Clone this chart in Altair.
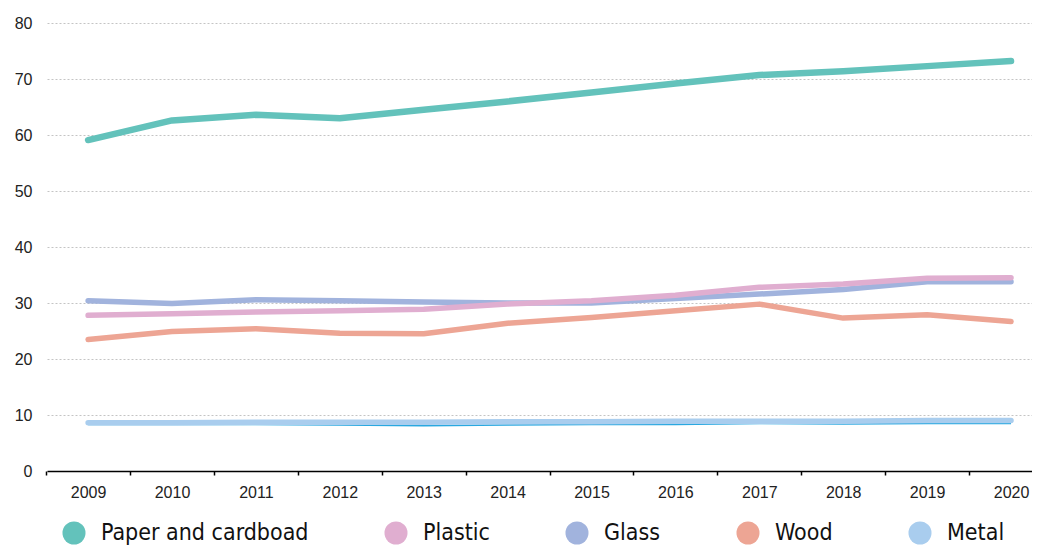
import altair as alt
import pandas as pd

years = list(range(2009, 2021))
paper = [59.1, 62.6, 63.6, 63.0, 64.5, 66.0, 67.6, 69.2, 70.7, 71.4, 72.3, 73.2]
plastic = [27.8, 28.1, 28.4, 28.6, 28.9, 29.8, 30.4, 31.4, 32.8, 33.4, 34.4, 34.5]
glass = [30.4, 29.9, 30.6, 30.4, 30.2, 30.0, 30.0, 30.8, 31.6, 32.4, 33.8, 33.8]
wood = [23.5, 24.9, 25.4, 24.6, 24.5, 26.4, 27.4, 28.6, 29.8, 27.3, 27.9, 26.7]
metal = [8.6, 8.6, 8.7, 8.7, 8.7, 8.8, 8.8, 8.9, 8.9, 8.9, 9.0, 9.0]
metal_inner = [8.3, 8.3, 8.3, 8.2, 8.1, 8.2, 8.3, 8.3, 8.5, 8.4, 8.5, 8.5]

names = ["Paper and cardboad", "Plastic", "Glass", "Wood", "Metal"]
colors = ["#63c2bb", "#e0aed0", "#a1b3dd", "#eda594", "#a9cdee"]
y_ticks = [0, 10, 20, 30, 40, 50, 60, 70, 80]

series = {"Metal": metal, "Wood": wood, "Glass": glass, "Plastic": plastic, "Paper and cardboad": paper}
rows = []
for order, (name, vals) in enumerate(series.items()):
    for yr, v in zip(years, vals):
        rows.append({"year": yr, "value": v, "material": name, "order": order})
df = pd.DataFrame(rows)
df_inner = pd.DataFrame({"year": years, "value": metal_inner})

x_enc = alt.X("year:Q", scale=alt.Scale(domain=[2008.51, 2020.25], nice=False, zero=False),
              axis=alt.Axis(values=years, format="d", title=None, grid=False,
                            ticks=True, tickSize=4, tickWidth=1.5, tickColor="#000000",
                            tickOffset=-42, labelOffset=42,
                            domainColor="#000000", domainWidth=1.5, labelPadding=9,
                            labelFontSize=16, labelColor="#222222", labelFont="Liberation Sans"))
y_enc = alt.Y("value:Q", scale=alt.Scale(domain=[0, 80], nice=False),
              axis=alt.Axis(values=y_ticks, title=None, domain=False, ticks=False,
                            gridDash=[2, 2], gridColor="#c4c4c4", gridWidth=1,
                            labelPadding=15, labelFontSize=16, labelColor="#222222",
                            labelFont="Liberation Sans"))

color_scale = alt.Scale(domain=names, range=colors)

inner = alt.Chart(df_inner).mark_line(color="#29a8e0", strokeWidth=1.5).encode(
    x=x_enc, y=y_enc)

lines = alt.Chart(df).mark_line(strokeCap="round", strokeJoin="round").encode(
    x=x_enc, y=y_enc,
    order=alt.Order("order:Q"),
    detail="order:Q",
    strokeWidth=alt.condition(alt.datum.material == "Paper and cardboad", alt.value(6.5), alt.value(5.5)),
    color=alt.Color("material:N", scale=color_scale, legend=None),
)

keys = alt.Chart(df).mark_circle(opacity=0, size=1).encode(
    x=x_enc, y=y_enc,
    color=alt.Color("material:N", scale=color_scale,
                    legend=alt.Legend(title=None, orient="none", legendX=15, legendY=498,
                                      direction="horizontal", symbolType="circle",
                                      symbolSize=531, symbolStrokeWidth=0, symbolOpacity=1,
                                      labelFont="'DejaVu Sans Condensed', 'Roboto', sans-serif",
                                      labelFontSize=23,
                                      labelColor="#111111", labelOffset=15,
                                      columnPadding=75, labelLimit=400)),
)

chart = alt.layer(inner, lines, keys).resolve_legend(color="independent").properties(
    width=985, height=448,
    autosize=alt.AutoSizeParams(type="none"),
    padding={"left": 39, "top": 15, "right": 0, "bottom": 77},
).configure_view(stroke=None)

chart.save("out.html", embed_options={"renderer": "svg", "actions": False})
